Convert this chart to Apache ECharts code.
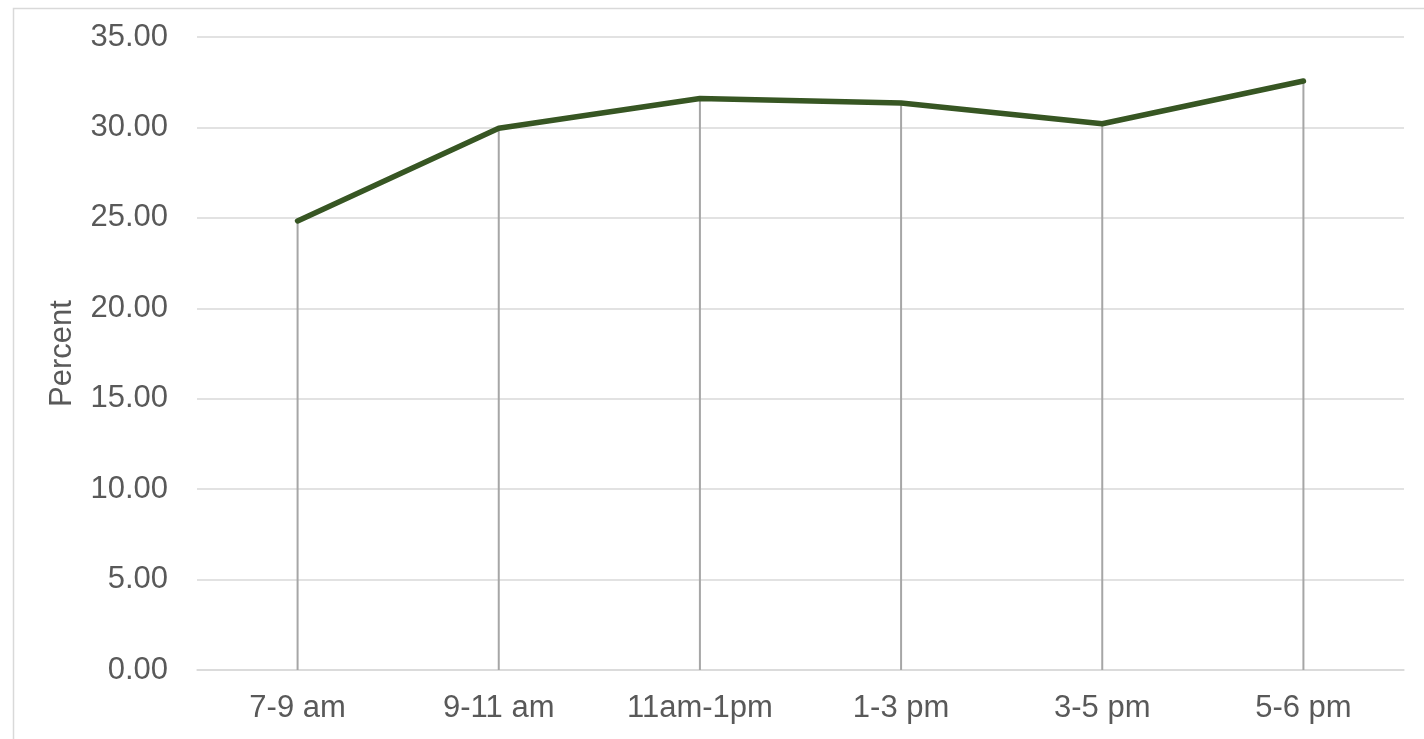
<!DOCTYPE html>
<html>
<head>
<meta charset="utf-8">
<script src="https://cdn.jsdelivr.net/npm/echarts@6/dist/echarts.min.js"></script>
<style>
  html, body { margin: 0; padding: 0; background: #ffffff; }
  #chart { width: 1424px; height: 739px; }
</style>
</head>
<body>
<div id="chart"></div>
<script>
// Time-of-day slots and the share (percent) recorded in each
const categories = ['7-9 am', '9-11 am', '11am-1pm', '1-3 pm', '3-5 pm', '5-6 pm'];
const percentValues = [24.83, 29.95, 31.6, 31.35, 30.2, 32.57];
const yTicks = { min: 0, max: 35, interval: 5 };
const yAxisTitle = 'Percent';

const textColor = '#595959';
const fontFamily = '"Liberation Sans", Arial, sans-serif';

const chart = echarts.init(document.getElementById('chart'), null, { renderer: 'canvas' });

chart.setOption({
  animation: false,
  backgroundColor: '#ffffff',
  graphic: [{
    type: 'rect',
    left: 11,
    top: 6,
    shape: { width: 1500, height: 800 },
    style: { fill: 'none', stroke: '#d9d9d9', lineWidth: 1.5 },
    silent: true,
    z: -1
  }],
  grid: { left: 197, right: 20, top: 37, bottom: 69, containLabel: false },
  xAxis: {
    type: 'category',
    data: categories,
    boundaryGap: true,
    axisLine: { show: true, lineStyle: { color: '#d9d9d9', width: 1.5 } },
    axisTick: { show: false },
    axisLabel: { color: textColor, fontSize: 31, fontFamily: fontFamily, margin: 23 },
    splitLine: { show: false }
  },
  yAxis: {
    type: 'value',
    min: yTicks.min,
    max: yTicks.max,
    interval: yTicks.interval,
    name: yAxisTitle,
    nameLocation: 'middle',
    nameGap: 119,
    nameRotate: 90,
    nameTextStyle: { color: textColor, fontSize: 31, fontFamily: fontFamily },
    axisLine: { show: false },
    axisTick: { show: false },
    axisLabel: {
      color: textColor, fontSize: 31, fontFamily: fontFamily, margin: 29,
      formatter: v => v.toFixed(2)
    },
    splitLine: { show: true, lineStyle: { color: '#d9d9d9', width: 1.5 } }
  },
  series: [
    {
      // thin drop lines from each point down to the category axis
      type: 'bar',
      data: percentValues,
      barWidth: 2,
      itemStyle: { color: '#a6a6a6' },
      silent: true,
      z: 1
    },
    {
      type: 'line',
      data: percentValues,
      symbol: 'none',
      lineStyle: { color: '#375623', width: 5.5, cap: 'round', join: 'round' },
      z: 3
    }
  ]
});
</script>
</body>
</html>
